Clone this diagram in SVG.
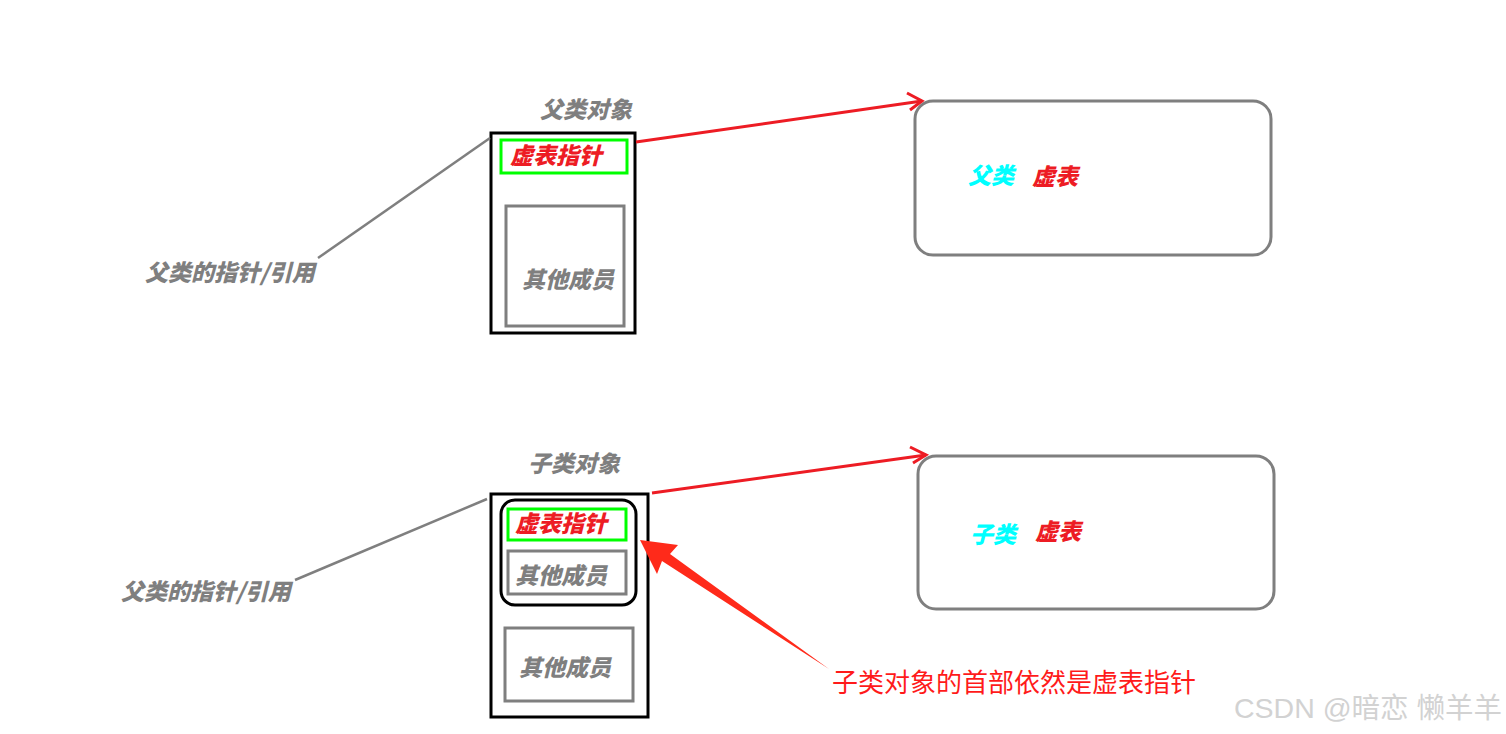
<svg xmlns="http://www.w3.org/2000/svg" width="1506" height="734" viewBox="0 0 1506 734">
<style>
.lbl{font-family:"Noto Sans CJK SC","Liberation Sans",sans-serif;font-weight:900;font-style:italic;font-size:23px}
.g{fill:#7f7f7f}
.r{fill:#ed1c24}
.c{fill:#00ffff}
.blk{fill:none;stroke:#000;stroke-width:3}
.grn{fill:none;stroke:#00ff00;stroke-width:3}
.gry{fill:none;stroke:#7f7f7f;stroke-width:3}
.rline{fill:none;stroke:#ed1c24;stroke-width:3}
.gline{fill:none;stroke:#7f7f7f;stroke-width:2.5}
</style>
<rect width="1506" height="734" fill="#fff"/>
<g id="parent-object">
<text class="lbl g" x="540" y="118">父类对象</text>
<rect class="blk" x="491" y="133" width="144" height="200"/>
<rect class="grn" x="501" y="140" width="126" height="33"/>
<text class="lbl r" x="510" y="164">虚表指针</text>
<rect class="gry" x="506" y="206" width="118" height="120"/>
<text class="lbl g" x="522" y="288">其他成员</text>
</g>
<g id="parent-vtable">
<rect class="gry" x="915" y="101" width="356" height="154" rx="18"/>
<text class="lbl c" x="968" y="184">父类</text>
<text class="lbl r" x="1032" y="185">虚表</text>
</g>
<g id="parent-pointer-label">
<text class="lbl g" x="145" y="281">父类的指针/引用</text>
</g>
<g id="child-object">
<text class="lbl g" x="528" y="472">子类对象</text>
<rect class="blk" x="491" y="494" width="157" height="223"/>
<rect class="blk" x="501" y="500" width="135" height="105" rx="14"/>
<rect class="grn" x="508" y="509" width="118" height="31"/>
<text class="lbl r" x="515" y="532">虚表指针</text>
<rect class="gry" x="508" y="551" width="118" height="43"/>
<text class="lbl g" x="515" y="584">其他成员</text>
<rect class="gry" x="505" y="628" width="128" height="73"/>
<text class="lbl g" x="519" y="676">其他成员</text>
</g>
<g id="child-vtable">
<rect class="gry" x="918" y="456" width="356" height="153" rx="18"/>
<text class="lbl c" x="970" y="543">子类</text>
<text class="lbl r" x="1035" y="540">虚表</text>
</g>
<g id="child-pointer-label">
<text class="lbl g" x="121" y="600">父类的指针/引用</text>
</g>
<g id="connectors">
<line class="gline" x1="318" y1="258" x2="490" y2="138"/>
<line class="gline" x1="295" y1="580" x2="487" y2="499"/>
<line class="rline" x1="636" y1="142" x2="922" y2="101"/>
<polyline class="rline" points="907,93 922,101 910,110"/>
<line class="rline" x1="652" y1="493" x2="926" y2="455"/>
<polyline class="rline" points="910,447 926,455 913,463"/>
<polygon fill="#ff2a1a" points="640,540 678,545 670,554 829,669 662,561 657,574"/>
</g>
<g id="annotation">
<text x="832" y="692" font-family="Noto Sans CJK SC,Liberation Sans,sans-serif" font-size="26" fill="#ff1a1a">子类对象的首部依然是虚表指针</text>
</g>
<g id="watermark">
<text x="1234" y="718" font-family="Liberation Sans,Noto Sans CJK SC,sans-serif" font-size="28.5" fill="#d2d2d2">CSDN @暗恋 懒羊羊</text>
</g>
</svg>
